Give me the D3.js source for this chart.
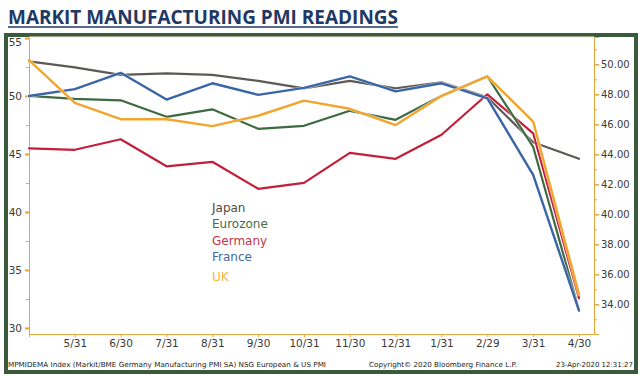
<!DOCTYPE html>
<html>
<head>
  <meta charset="UTF-8">
  <title>Markit Manufacturing PMI Readings</title>
  <script src="https://d3js.org/d3.v7.min.js"></script>
  <style>
    body {
      margin: 0;
      background: #fff;
      font-family: "DejaVu Sans", Verdana, sans-serif;
    }
    .axis path, .axis line {
      stroke: #e8a53a;
    }
    .axis text {
      fill: #3a3a3a;
      font-family: "DejaVu Sans", Verdana, sans-serif;
    }
    .series {
      fill: none;
      stroke-linejoin: round;
      stroke-linecap: round;
    }
  </style>
</head>
<body>
  <div id="chart"></div>
  <script>
    // month-end dates, Apr 2019 .. Apr 2020
    const months = ["2019-04-30", "2019-05-31", "2019-06-30", "2019-07-31", "2019-08-31", "2019-09-30",
      "2019-10-31", "2019-11-30", "2019-12-31", "2020-01-31", "2020-02-29", "2020-03-31", "2020-04-30"];
    const monthLabels = ["", "5/31", "6/30", "7/31", "8/31", "9/30", "10/31", "11/30", "12/31", "1/31", "2/29", "3/31", "4/30"];

    // right axis series
    const japan = [50.2, 49.8, 49.3, 49.4, 49.3, 48.9, 48.4, 48.9, 48.4, 48.8, 47.8, 44.8, 43.7];
    const eurozone = [47.9, 47.7, 47.6, 46.5, 47.0, 45.7, 45.9, 46.9, 46.3, 47.9, 49.2, 44.5, 33.6];
    const germany = [44.4, 44.3, 45.0, 43.2, 43.5, 41.7, 42.1, 44.1, 43.7, 45.3, 48.0, 45.4, 34.4];
    // left axis series
    const france = [50.0, 50.6, 52.0, 49.7, 51.1, 50.1, 50.7, 51.7, 50.4, 51.1, 49.8, 43.2, 31.5];
    const uk = [53.1, 49.4, 48.0, 48.0, 47.4, 48.3, 49.6, 48.9, 47.5, 50.0, 51.7, 47.8, 32.9];

    const leftTicks = [30, 35, 40, 45, 50, 55];
    const rightTicks = [34, 36, 38, 40, 42, 44, 46, 48, 50];

    const legendNames = ["Japan", "Eurozone", "Germany", "France", "UK"];

    const W = 642, H = 376;
    const plot = { left: 29, right: 594, top: 37, bottom: 334 };

    const svg = d3.select("#chart").append("svg")
      .attr("width", W)
      .attr("height", H);

    // title
    const title = svg.append("text")
      .attr("x", 8)
      .attr("y", 24)
      .attr("fill", "#1f3864")
      .attr("font-family", "'Open Sans', sans-serif")
      .attr("font-weight", 700)
      .attr("font-size", 19)
      .attr("textLength", 390)
      .attr("lengthAdjust", "spacingAndGlyphs")
      .text("MARKIT MANUFACTURING PMI READINGS");
    svg.append("line")
      .attr("x1", 8).attr("x2", 398)
      .attr("y1", 27).attr("y2", 27)
      .attr("stroke", "#1f3864")
      .attr("stroke-width", 1.6);

    // frame
    svg.append("rect")
      .attr("x", 6).attr("y", 35)
      .attr("width", 630).attr("height", 337)
      .attr("fill", "#fff")
      .attr("stroke", "#3b5a3c")
      .attr("stroke-width", 4);

    const x = d3.scalePoint()
      .domain(months)
      .range([plot.left, 579]);

    const yLeft = d3.scaleLinear()
      .domain([29.48, 55.09])
      .range([plot.bottom, plot.top]);

    const yRight = d3.scaleLinear()
      .domain([32.02, 51.82])
      .range([plot.bottom, plot.top]);

    // faint top edge of plot
    svg.append("line")
      .attr("x1", plot.left).attr("x2", plot.right)
      .attr("y1", plot.top).attr("y2", plot.top)
      .attr("stroke", "#f6e7cc")
      .attr("stroke-width", 1);

    // left axis, minor then major
    const leftMinor = leftTicks.slice(0, -1).map(d => d + 2.5);
    svg.append("g")
      .attr("class", "axis")
      .attr("transform", `translate(${plot.left},0)`)
      .call(d3.axisLeft(yLeft).tickValues(leftMinor).tickSize(3).tickFormat(""))
      .select(".domain").remove();
    const gl = svg.append("g")
      .attr("class", "axis")
      .attr("transform", `translate(${plot.left},0)`)
      .call(d3.axisLeft(yLeft).tickValues(leftTicks).tickSize(4).tickSizeOuter(0).tickPadding(3))
      .attr("font-size", 10.5);
    gl.selectAll(".tick line").attr("stroke-width", 2);
    gl.selectAll(".tick").filter(d => d === 55).select("text").attr("dy", "0.75em");

    // right axis
    const rightMinor = rightTicks.map(d => d - 1).concat([51]);
    svg.append("g")
      .attr("class", "axis")
      .attr("transform", `translate(${plot.right},0)`)
      .call(d3.axisRight(yRight).tickValues(rightMinor).tickSize(3).tickFormat(""))
      .select(".domain").remove();
    const gr = svg.append("g")
      .attr("class", "axis")
      .attr("transform", `translate(${plot.right},0)`)
      .call(d3.axisRight(yRight).tickValues(rightTicks).tickSize(5).tickSizeOuter(5).tickPadding(2)
        .tickFormat(d3.format(".2f")))
      .attr("font-size", 10);
    gr.selectAll(".tick line").attr("stroke-width", 1.5);

    // bottom axis
    const gx = svg.append("g")
      .attr("class", "axis")
      .attr("transform", `translate(0,${plot.bottom})`)
      .call(d3.axisBottom(x).tickFormat((d, i) => monthLabels[i]).tickSize(3).tickSizeOuter(0).tickPadding(3))
      .attr("font-size", 10.5);
    gx.select(".domain").attr("d", `M${plot.left},0.5H${plot.right}`);
    gx.selectAll(".tick line").attr("stroke", "#999");

    // series
    const seriesList = [
      { name: "Japan", values: japan, y: yRight, color: "#5d5954", width: 2.2 },
      { name: "Germany", values: germany, y: yRight, color: "#c41e3a", width: 2.2 },
      { name: "Eurozone", values: eurozone, y: yRight, color: "#3d6a40", width: 2.2 },
      { name: "France", values: france, y: yLeft, color: "#3a66a6", width: 2.4 },
      { name: "UK", values: uk, y: yLeft, color: "#f2a52c", width: 2.4 }
    ];

    seriesList.forEach(s => {
      const line = d3.line()
        .x((d, i) => x(months[i]))
        .y(d => s.y(d));
      svg.append("path")
        .datum(s.values)
        .attr("class", "series")
        .attr("d", line)
        .attr("stroke", "#fff")
        .attr("stroke-width", s.width + 1.2)
        .attr("opacity", 0.6);
      svg.append("path")
        .datum(s.values)
        .attr("class", "series")
        .attr("d", line)
        .attr("stroke", s.color)
        .attr("stroke-width", s.width);
    });

    // legend
    const legendColors = { Japan: "#54483c", Eurozone: "#466b47", Germany: "#c8324a", France: "#3f68a6", UK: "#f4b53a" };
    const legendY = [212, 228, 245, 261, 281];
    svg.append("g")
      .selectAll("text")
      .data(legendNames)
      .join("text")
      .attr("x", 212)
      .attr("y", (d, i) => legendY[i])
      .attr("font-size", 12)
      .attr("fill", d => legendColors[d])
      .text(d => d);

    // footer
    const foot = svg.append("g")
      .attr("font-size", 7)
      .attr("fill", "#222");
    foot.append("text")
      .attr("x", 8).attr("y", 367)
      .attr("textLength", 318)
      .attr("lengthAdjust", "spacingAndGlyphs")
      .text("MPMIDEMA Index (Markit/BME Germany Manufacturing PMI SA) NSG European & US PMI");
    foot.append("text")
      .attr("x", 369).attr("y", 367)
      .attr("textLength", 148)
      .attr("lengthAdjust", "spacingAndGlyphs")
      .text("Copyright\u00a9 2020 Bloomberg Finance L.P.");
    foot.append("text")
      .attr("x", 633).attr("y", 367)
      .attr("text-anchor", "end")
      .text("23-Apr-2020 12:31:27");
  </script>
</body>
</html>
